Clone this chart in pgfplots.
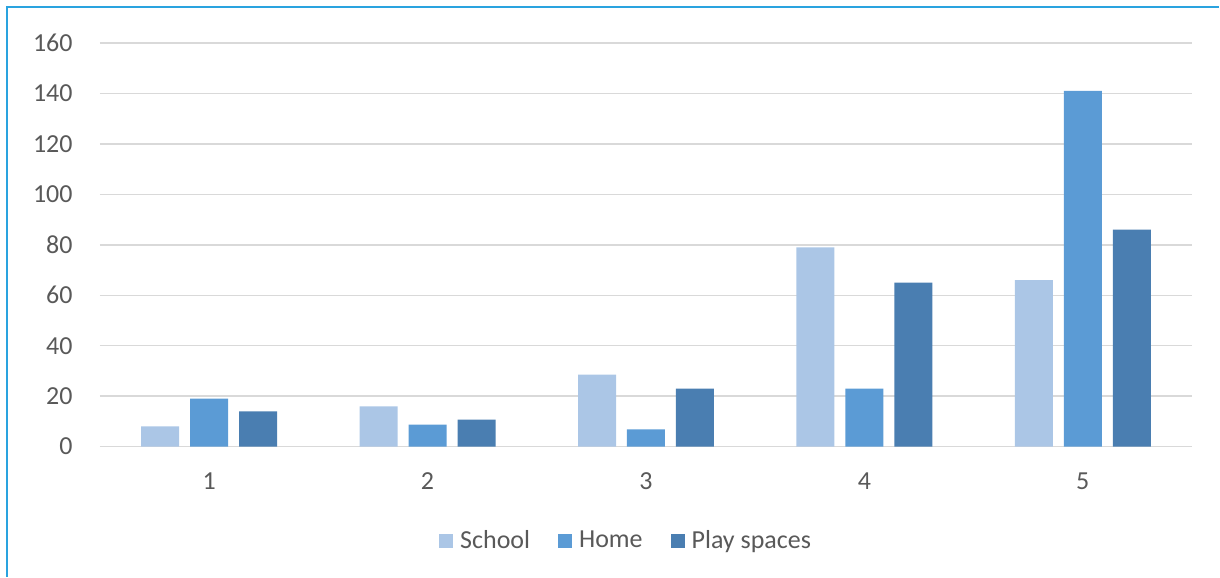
\documentclass[border=0pt]{standalone}
\usepackage{fontspec}
\setmainfont{Carlito}
\usepackage{pgfplots}
\pgfplotsset{compat=1.18}
\definecolor{cSchool}{HTML}{ABC6E6}
\definecolor{cHome}{HTML}{5B9BD5}
\definecolor{cPlay}{HTML}{4A7EB1}
\definecolor{gridc}{HTML}{D9D9D9}
\definecolor{txt}{HTML}{595959}
\definecolor{framec}{HTML}{2AA3DF}
\begin{document}
\begin{tikzpicture}
\begin{axis}[
  scale only axis, width=546.5pt, height=202pt,
  clip=false,
  xmin=0.5, xmax=5.5, ymin=0, ymax=160,
  xtick={1,2,3,4,5}, ytick={0,20,...,160},
  ymajorgrids, grid style={gridc, line width=0.75pt},
  axis line style={draw=none}, tick style={draw=none},
  ybar=5.5pt, bar width=19pt,
  ticklabel style={font=\fontsize{13}{15}\selectfont, text=txt},
  /pgf/number format/assume math mode=true,
  yticklabel style={anchor=east, inner sep=0pt, xshift=-13.5pt},
  xticklabel style={anchor=center, inner sep=0pt, yshift=-13pt},
  legend columns=3,
  legend style={draw=none, at={(0.4827,-0.2327)}, anchor=center,
    font=\fontsize{13}{15}\selectfont, text=txt,
    /tikz/every even column/.append style={column sep=12pt},
    inner sep=0pt},
  legend cell align=left,
]
\addplot[fill=cSchool, draw=none, legend image code/.code={\fill[cSchool] (0pt,-3.5pt) rectangle (7pt,3.5pt); \path (8.5pt,0pt);}]
  coordinates {(1,8) (2,16) (3,28.5) (4,79) (5,66)};
\addplot[fill=cHome, draw=none, legend image code/.code={\fill[cHome] (0pt,-3.5pt) rectangle (7pt,3.5pt); \path (8.5pt,0pt);}]
  coordinates {(1,19) (2,8.7) (3,6.8) (4,23) (5,141)};
\addplot[fill=cPlay, draw=none, legend image code/.code={\fill[cPlay] (0pt,-3.5pt) rectangle (7pt,3.5pt); \path (8.5pt,0pt);}]
  coordinates {(1,14) (2,10.7) (3,23) (4,65) (5,86)};
\legend{School, Home, Play spaces}
\path (rel axis cs:-0.09149,-0.32178) rectangle (rel axis cs:1.02470,1.10644);
\draw[framec, line width=1pt] (rel axis cs:-0.08509,-0.32178) -- (rel axis cs:-0.08509,1.0903) -- (rel axis cs:1.02470,1.0903);
\end{axis}
\end{tikzpicture}
\end{document}
